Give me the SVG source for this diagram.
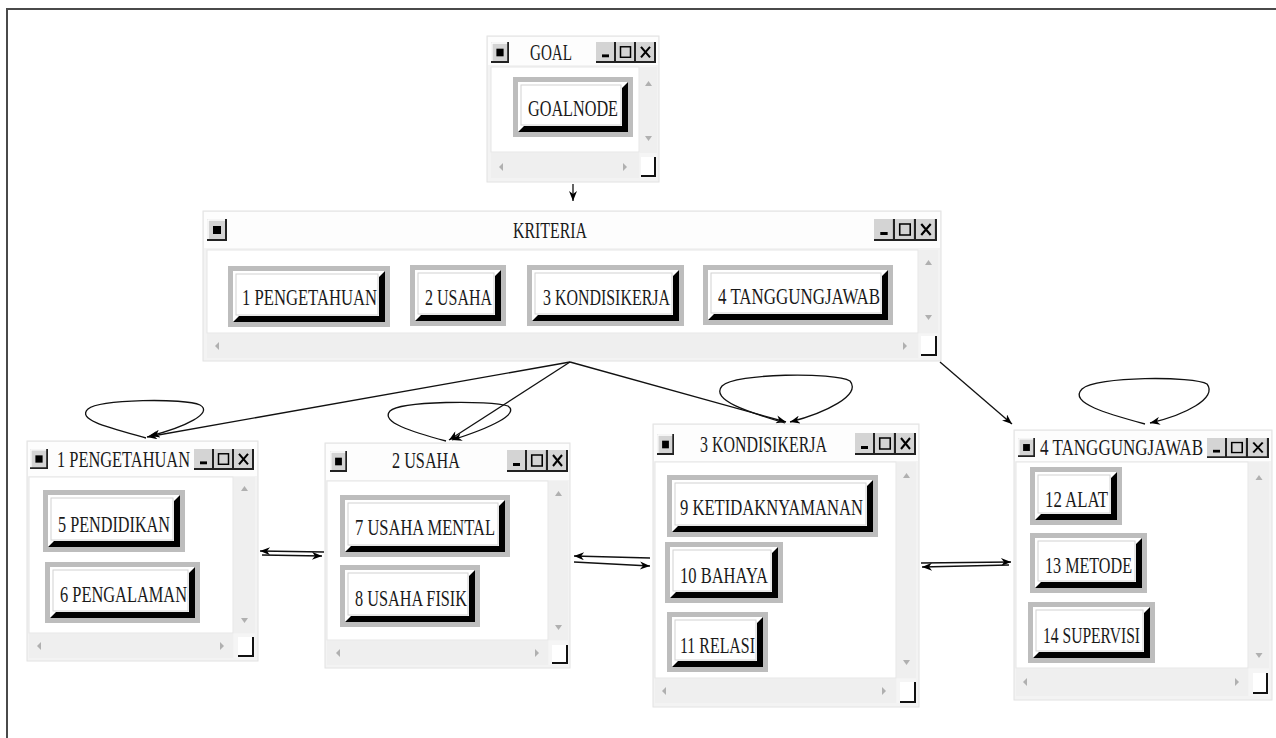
<svg xmlns="http://www.w3.org/2000/svg" xmlns:xlink="http://www.w3.org/1999/xlink" width="1276" height="738" viewBox="0 0 1276 738">
<style>
.t{font-family:"Liberation Serif","Times New Roman",serif;font-size:23px;fill:#1a1a1a;text-anchor:middle}
.win{fill:#f3f3f3;stroke:#e2e2e2;stroke-width:1}
.tbar{fill:#fdfdfd}
.content{fill:#ffffff;stroke:#e6e6e6;stroke-width:1}
.track{fill:#efefef}
.corner{fill:#f5f5f5}
.grip{fill:#ffffff}
.gripl{fill:none;stroke:#111;stroke-width:2}
.arr{fill:#b0b0b0}
.bo{fill:#bdbdbd}
.bb{fill:#000}
.bw{fill:#ffffff}
.bi{fill:none;stroke:#d2d2d2;stroke-width:1}
.edgea{fill:none;stroke:#111;stroke-width:1.3;marker-end:url(#ah)}
</style>
<defs>
<marker id="ah" viewBox="0 0 10 8" refX="10" refY="4" markerWidth="11" markerHeight="8" markerUnits="userSpaceOnUse" orient="auto">
<path d="M0,0 L10,4 L0,8 L3,4 z" fill="#000"/>
</marker>
<symbol id="sys" viewBox="0 0 20 22" preserveAspectRatio="none">
<rect x="0" y="0" width="20" height="22" fill="#d4d4d4"/>
<path d="M1,21 V1 H19" fill="none" stroke="#fff" stroke-width="1.5"/>
<path d="M0,21 H19 V0" fill="none" stroke="#222" stroke-width="2"/>
<rect x="6" y="7" width="8" height="8" fill="#000"/>
</symbol>
<symbol id="minb" viewBox="0 0 20 22" preserveAspectRatio="none">
<rect x="0" y="0" width="20" height="22" fill="#d4d4d4"/>
<path d="M0,21 H19 V0" fill="none" stroke="#222" stroke-width="2"/>
<rect x="6" y="13" width="7" height="3" fill="#000"/>
</symbol>
<symbol id="maxb" viewBox="0 0 20 22" preserveAspectRatio="none">
<rect x="0" y="0" width="20" height="22" fill="#d4d4d4"/>
<path d="M0,21 H19 V0" fill="none" stroke="#222" stroke-width="2"/>
<rect x="4.5" y="5" width="10" height="11" fill="none" stroke="#000" stroke-width="1.5"/>
</symbol>
<symbol id="closeb" viewBox="0 0 20 22" preserveAspectRatio="none">
<rect x="0" y="0" width="20" height="22" fill="#d4d4d4"/>
<path d="M0,21 H19 V0" fill="none" stroke="#222" stroke-width="2"/>
<path d="M5,5 L14,16 M14,5 L5,16" stroke="#000" stroke-width="2" fill="none"/>
</symbol>
</defs>
<rect x="0" y="0" width="1276" height="738" fill="#ffffff"/>
<path d="M7,738 V9 H1276" fill="none" stroke="#4a4a4a" stroke-width="2"/>

<!-- GOAL window -->
<g id="goal">
<rect class="win" x="487" y="36" width="172" height="146"/>
<rect class="tbar" x="488" y="37" width="170" height="28"/>
<use xlink:href="#sys" x="491" y="42" width="18" height="21"/>
<use xlink:href="#minb" x="596" y="42" width="20" height="21"/>
<use xlink:href="#maxb" x="616" y="42" width="20" height="21"/>
<use xlink:href="#closeb" x="636" y="42" width="20" height="21"/>
<text class="t" x="551" y="60" textLength="42" lengthAdjust="spacingAndGlyphs">GOAL</text>
<rect class="content" x="491" y="67" width="148" height="85"/>
<rect class="track" x="640" y="67" width="17" height="86"/>
<polygon class="arr" points="645,86 648.5,81 652,86"/>
<polygon class="arr" points="645,136 652,136 648.5,141"/>
<rect class="track" x="491" y="153" width="148" height="25"/>
<polygon class="arr" points="503,163 503,171 499,167"/>
<polygon class="arr" points="623,163 623,171 627,167"/>
<rect class="corner" x="640" y="153" width="17" height="25"/>
<rect class="grip" x="641" y="157" width="14" height="19"/>
<path class="gripl" d="M641,176 H655 V157"/>
<g id="goalnode">
<rect class="bo" x="513" y="77" width="120" height="60"/>
<rect class="bb" x="518" y="82" width="110" height="50"/>
<polygon class="bw" points="518,82 628,82 622,88 622,126 524,126 518,132"/>
<rect class="bi" x="521" y="85" width="100" height="40"/>
<text class="t" x="573" y="116" textLength="90" lengthAdjust="spacingAndGlyphs">GOALNODE</text>
</g>
</g>

<!-- KRITERIA window -->
<g id="kriteria">
<rect class="win" x="203" y="211" width="738" height="150"/>
<rect class="tbar" x="204" y="212" width="736" height="36"/>
<use xlink:href="#sys" x="207" y="219" width="20" height="22"/>
<use xlink:href="#minb" x="874" y="219" width="21" height="22"/>
<use xlink:href="#maxb" x="895" y="219" width="21" height="22"/>
<use xlink:href="#closeb" x="916" y="219" width="21" height="22"/>
<text class="t" x="550" y="238" textLength="74" lengthAdjust="spacingAndGlyphs">KRITERIA</text>
<rect class="content" x="207" y="250" width="711" height="83"/>
<rect class="track" x="919" y="250" width="19" height="83"/>
<polygon class="arr" points="925,265 928.5,260 932,265"/>
<polygon class="arr" points="925,315 932,315 928.5,320"/>
<rect class="track" x="207" y="334" width="711" height="24"/>
<polygon class="arr" points="219,342 219,350 215,346"/>
<polygon class="arr" points="903,342 903,350 907,346"/>
<rect class="corner" x="919" y="334" width="19" height="24"/>
<rect class="grip" x="921" y="336" width="15" height="19"/>
<path class="gripl" d="M921,355 H936 V336"/>
<g id="k1">
<rect class="bo" x="228" y="266" width="162" height="61"/>
<rect class="bb" x="233" y="271" width="152" height="51"/>
<polygon class="bw" points="233,271 385,271 379,277 379,316 239,316 233,322"/>
<rect class="bi" x="236" y="274" width="142" height="41"/>
<text class="t" x="309.5" y="305" textLength="135" lengthAdjust="spacingAndGlyphs">1 PENGETAHUAN</text>
</g>
<g id="k2">
<rect class="bo" x="410" y="265" width="96" height="61"/>
<rect class="bb" x="415" y="270" width="86" height="51"/>
<polygon class="bw" points="415,270 501,270 495,276 495,315 421,315 415,321"/>
<rect class="bi" x="418" y="273" width="76" height="41"/>
<text class="t" x="458.5" y="305" textLength="67" lengthAdjust="spacingAndGlyphs">2 USAHA</text>
</g>
<g id="k3">
<rect class="bo" x="527" y="265" width="157" height="61"/>
<rect class="bb" x="532" y="270" width="147" height="51"/>
<polygon class="bw" points="532,270 679,270 673,276 673,315 538,315 532,321"/>
<rect class="bi" x="535" y="273" width="137" height="41"/>
<text class="t" x="606.5" y="305" textLength="127" lengthAdjust="spacingAndGlyphs">3 KONDISIKERJA</text>
</g>
<g id="k4">
<rect class="bo" x="703" y="265" width="190" height="60"/>
<rect class="bb" x="708" y="270" width="180" height="50"/>
<polygon class="bw" points="708,270 888,270 882,276 882,314 714,314 708,320"/>
<rect class="bi" x="711" y="273" width="170" height="40"/>
<text class="t" x="799" y="304" textLength="162" lengthAdjust="spacingAndGlyphs">4 TANGGUNGJAWAB</text>
</g>
</g>

<!-- 1 PENGETAHUAN window -->
<g id="pengetahuan">
<rect class="win" x="27" y="441" width="231" height="220"/>
<rect class="tbar" x="28" y="442" width="229" height="34"/>
<use xlink:href="#sys" x="30" y="449" width="18" height="20"/>
<use xlink:href="#minb" x="194" y="449" width="20" height="21"/>
<use xlink:href="#maxb" x="214" y="449" width="20" height="21"/>
<use xlink:href="#closeb" x="234" y="449" width="20" height="21"/>
<text class="t" x="123.5" y="467" textLength="133" lengthAdjust="spacingAndGlyphs">1 PENGETAHUAN</text>
<rect class="content" x="29" y="477" width="204" height="156"/>
<rect class="track" x="234" y="477" width="21" height="156"/>
<polygon class="arr" points="241,491 244.5,486 248,491"/>
<polygon class="arr" points="241,618 248,618 244.5,623"/>
<rect class="track" x="29" y="634" width="204" height="24"/>
<polygon class="arr" points="41,642 41,650 37,646"/>
<polygon class="arr" points="220,642 220,650 224,646"/>
<rect class="corner" x="234" y="634" width="21" height="24"/>
<rect class="grip" x="238" y="637" width="15" height="19"/>
<path class="gripl" d="M238,656 H253 V637"/>
<g id="n5">
<rect class="bo" x="43" y="490" width="142" height="62"/>
<rect class="bb" x="48" y="495" width="132" height="52"/>
<polygon class="bw" points="48,495 180,495 174,501 174,541 54,541 48,547"/>
<rect class="bi" x="51" y="498" width="122" height="42"/>
<text class="t" x="114" y="532" textLength="112" lengthAdjust="spacingAndGlyphs">5 PENDIDIKAN</text>
</g>
<g id="n6">
<rect class="bo" x="45" y="562" width="155" height="61"/>
<rect class="bb" x="50" y="567" width="145" height="51"/>
<polygon class="bw" points="50,567 195,567 189,573 189,612 56,612 50,618"/>
<rect class="bi" x="53" y="570" width="135" height="41"/>
<text class="t" x="123.5" y="602" textLength="127" lengthAdjust="spacingAndGlyphs">6 PENGALAMAN</text>
</g>
</g>

<!-- 2 USAHA window -->
<g id="usaha">
<rect class="win" x="325" y="443" width="245" height="225"/>
<rect class="tbar" x="326" y="444" width="243" height="36"/>
<use xlink:href="#sys" x="330" y="451" width="17" height="21"/>
<use xlink:href="#minb" x="507" y="450" width="20" height="22"/>
<use xlink:href="#maxb" x="527" y="450" width="21" height="22"/>
<use xlink:href="#closeb" x="548" y="450" width="20" height="22"/>
<text class="t" x="426" y="468" textLength="68" lengthAdjust="spacingAndGlyphs">2 USAHA</text>
<rect class="content" x="327" y="481" width="221" height="159"/>
<rect class="track" x="549" y="481" width="19" height="159"/>
<polygon class="arr" points="555,496 558.5,491 562,496"/>
<polygon class="arr" points="555,625 562,625 558.5,630"/>
<rect class="track" x="327" y="641" width="221" height="24"/>
<polygon class="arr" points="340,649 340,657 336,653"/>
<polygon class="arr" points="535,649 535,657 539,653"/>
<rect class="corner" x="549" y="641" width="19" height="24"/>
<rect class="grip" x="552" y="645" width="15" height="18"/>
<path class="gripl" d="M552,663 H567 V645"/>
<g id="n7">
<rect class="bo" x="340" y="495" width="170" height="62"/>
<rect class="bb" x="345" y="500" width="160" height="52"/>
<polygon class="bw" points="345,500 505,500 499,506 499,546 351,546 345,552"/>
<rect class="bi" x="348" y="503" width="150" height="42"/>
<text class="t" x="425" y="535" textLength="140" lengthAdjust="spacingAndGlyphs">7 USAHA MENTAL</text>
</g>
<g id="n8">
<rect class="bo" x="340" y="565" width="140" height="62"/>
<rect class="bb" x="345" y="570" width="130" height="52"/>
<polygon class="bw" points="345,570 475,570 469,576 469,616 351,616 345,622"/>
<rect class="bi" x="348" y="573" width="120" height="42"/>
<text class="t" x="411" y="606" textLength="112" lengthAdjust="spacingAndGlyphs">8 USAHA FISIK</text>
</g>
</g>

<!-- 3 KONDISIKERJA window -->
<g id="kondisikerja">
<rect class="win" x="653" y="424" width="266" height="283"/>
<rect class="tbar" x="654" y="425" width="264" height="36"/>
<use xlink:href="#sys" x="657" y="434" width="17" height="21"/>
<use xlink:href="#minb" x="855" y="433" width="20" height="22"/>
<use xlink:href="#maxb" x="875" y="433" width="21" height="22"/>
<use xlink:href="#closeb" x="896" y="433" width="20" height="22"/>
<text class="t" x="763.5" y="452" textLength="127" lengthAdjust="spacingAndGlyphs">3 KONDISIKERJA</text>
<rect class="content" x="655" y="462" width="241" height="216"/>
<rect class="track" x="897" y="462" width="19" height="216"/>
<polygon class="arr" points="903,478 906.5,473 910,478"/>
<polygon class="arr" points="903,660 910,660 906.5,665"/>
<rect class="track" x="655" y="679" width="241" height="24"/>
<polygon class="arr" points="666,687 666,695 662,691"/>
<polygon class="arr" points="882,687 882,695 886,691"/>
<rect class="corner" x="897" y="679" width="19" height="24"/>
<rect class="grip" x="900" y="682" width="15" height="20"/>
<path class="gripl" d="M900,702 H915 V682"/>
<g id="n9">
<rect class="bo" x="667" y="475" width="211" height="62"/>
<rect class="bb" x="672" y="480" width="201" height="52"/>
<polygon class="bw" points="672,480 873,480 867,486 867,526 678,526 672,532"/>
<rect class="bi" x="675" y="483" width="191" height="42"/>
<text class="t" x="771.5" y="515" textLength="183" lengthAdjust="spacingAndGlyphs">9 KETIDAKNYAMANAN</text>
</g>
<g id="n10">
<rect class="bo" x="665" y="542" width="118" height="61"/>
<rect class="bb" x="670" y="547" width="108" height="51"/>
<polygon class="bw" points="670,547 778,547 772,553 772,592 676,592 670,598"/>
<rect class="bi" x="673" y="550" width="98" height="41"/>
<text class="t" x="724" y="583" textLength="88" lengthAdjust="spacingAndGlyphs">10 BAHAYA</text>
</g>
<g id="n11">
<rect class="bo" x="667" y="612" width="101" height="60"/>
<rect class="bb" x="672" y="617" width="91" height="50"/>
<polygon class="bw" points="672,617 763,617 757,623 757,661 678,661 672,667"/>
<rect class="bi" x="675" y="620" width="81" height="40"/>
<text class="t" x="717.5" y="653" textLength="75" lengthAdjust="spacingAndGlyphs">11 RELASI</text>
</g>
</g>

<!-- 4 TANGGUNGJAWAB window -->
<g id="tanggungjawab">
<rect class="win" x="1014" y="430" width="258" height="270"/>
<rect class="tbar" x="1015" y="431" width="256" height="30"/>
<use xlink:href="#sys" x="1018" y="438" width="17" height="19"/>
<use xlink:href="#minb" x="1207" y="438" width="20" height="20"/>
<use xlink:href="#maxb" x="1227" y="438" width="21" height="20"/>
<use xlink:href="#closeb" x="1248" y="438" width="21" height="20"/>
<text class="t" x="1121.5" y="455" textLength="163" lengthAdjust="spacingAndGlyphs">4 TANGGUNGJAWAB</text>
<rect class="content" x="1016" y="462" width="232" height="206"/>
<rect class="track" x="1249" y="462" width="20" height="206"/>
<polygon class="arr" points="1255.5,480 1259,475 1262.5,480"/>
<polygon class="arr" points="1255.5,653 1262.5,653 1259,658"/>
<rect class="track" x="1016" y="669" width="232" height="27"/>
<polygon class="arr" points="1027,678 1027,686 1023,682"/>
<polygon class="arr" points="1235,678 1235,686 1239,682"/>
<rect class="corner" x="1249" y="669" width="20" height="27"/>
<rect class="grip" x="1253" y="673" width="14" height="20"/>
<path class="gripl" d="M1253,693 H1267 V673"/>
<g id="n12">
<rect class="bo" x="1030" y="467" width="92" height="58"/>
<rect class="bb" x="1035" y="472" width="82" height="48"/>
<polygon class="bw" points="1035,472 1117,472 1111,478 1111,514 1041,514 1035,520"/>
<rect class="bi" x="1038" y="475" width="72" height="38"/>
<text class="t" x="1076.5" y="507" textLength="63" lengthAdjust="spacingAndGlyphs">12 ALAT</text>
</g>
<g id="n13">
<rect class="bo" x="1030" y="533" width="117" height="60"/>
<rect class="bb" x="1035" y="538" width="107" height="50"/>
<polygon class="bw" points="1035,538 1142,538 1136,544 1136,582 1041,582 1035,588"/>
<rect class="bi" x="1038" y="541" width="97" height="40"/>
<text class="t" x="1088.5" y="573" textLength="87" lengthAdjust="spacingAndGlyphs">13 METODE</text>
</g>
<g id="n14">
<rect class="bo" x="1028" y="602" width="127" height="61"/>
<rect class="bb" x="1033" y="607" width="117" height="51"/>
<polygon class="bw" points="1033,607 1150,607 1144,613 1144,652 1039,652 1033,658"/>
<rect class="bi" x="1036" y="610" width="107" height="41"/>
<text class="t" x="1091.5" y="643" textLength="97" lengthAdjust="spacingAndGlyphs">14 SUPERVISI</text>
</g>
</g>

<!-- connectors -->
<g id="connectors">
<path class="edgea" d="M573,184 L573,201"/>
<path class="edgea" d="M570,362 L147,437"/>
<path class="edgea" d="M570,362 L449,440"/>
<path class="edgea" d="M570,362 L786,422"/>
<path class="edgea" d="M940,362 L1012,424"/>
<path class="edgea" d="M146,438 C110,428 76,420 88,409 C100,399 185,398 200,405 C214,413 185,427 150,436"/>
<path class="edgea" d="M446,441 C412,432 380,422 390,411 C400,401 490,400 508,406 C520,414 490,428 452,440"/>
<path class="edgea" d="M785,423 C748,412 710,400 722,386 C735,373 835,372 850,381 C862,395 825,413 790,422"/>
<path class="edgea" d="M1145,424 C1108,414 1068,403 1082,389 C1095,376 1195,376 1207,384 C1218,398 1185,415 1150,423"/>
<path class="edgea" d="M324,552 L260,551"/>
<path class="edgea" d="M262,555 L322,556"/>
<path class="edgea" d="M650,558 L574,556"/>
<path class="edgea" d="M574,562 L650,566"/>
<path class="edgea" d="M921,563 L1011,562"/>
<path class="edgea" d="M1009,565 L922,567"/>
</g>
</svg>
